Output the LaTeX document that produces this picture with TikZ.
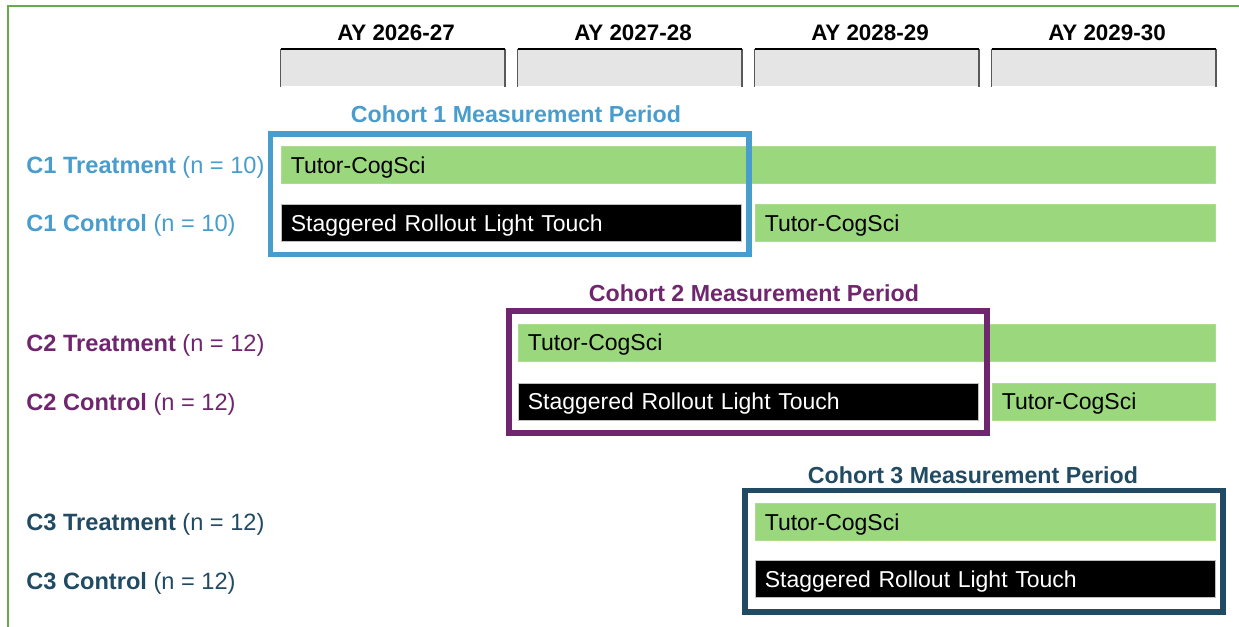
\documentclass[tikz,border=0pt]{standalone}
\usepackage{fontspec}
\setmainfont{Liberation Sans}
\definecolor{frameGreen}{RGB}{106,168,79}
\definecolor{barGreen}{RGB}{155,215,125}
\definecolor{cellGray}{RGB}{229,229,229}
\definecolor{cOneBlue}{RGB}{72,157,205}
\definecolor{cTwoPurple}{RGB}{112,38,110}
\definecolor{cThreeSlate}{RGB}{33,74,99}
\begin{document}
\begin{tikzpicture}[x=0.5pt, y=-0.5pt,
  frameline/.style={draw=frameGreen, line width=1.1pt},
  yearcell/.style={fill=cellGray, anchor=north west, minimum width=111.75pt, minimum height=18.35pt, inner sep=0pt},
  yearlabel/.style={font=\fontsize{11.2}{13}\selectfont\bfseries},
  celltop/.style={draw=black, line width=1.1pt},
  cellside/.style={draw=black!65, line width=0.7pt},
  barnode/.style={anchor=west, minimum height=18.5pt, inner xsep=5pt, inner ysep=0pt, text height=8.3pt, text depth=0pt, align=left, font=\fontsize{11.5}{13}\selectfont},
  tutorbar/.style={barnode, fill=barGreen, draw=barGreen!85!white, line width=0.3pt},
  rolloutbar/.style={barnode, fill=black, text=white, draw=black!25, line width=0.3pt},
  rowlabel/.style={anchor=west, inner sep=0pt, text height=8.3pt, text depth=0pt, font=\fontsize{11.8}{13}\selectfont},
  periodtitle/.style={font=\fontsize{11.6}{13}\selectfont\bfseries},
  periodframe/.style={line width=2.8pt}]
\useasboundingbox (0,0) rectangle (1239,627);
\draw[frameline] (8,627) -- (8,6) -- (1239,6);

% year header
\node[yearcell] (y1) at (280.5,49.3) {};
\node[yearcell] (y2) at (517.5,49.3) {};
\node[yearcell] (y3) at (754.5,49.3) {};
\node[yearcell] (y4) at (991.5,49.3) {};
\draw[cellside] (y1.south west) -- (y1.north west) (y1.north east) -- (y1.south east);
\draw[cellside] (y2.south west) -- (y2.north west) (y2.north east) -- (y2.south east);
\draw[cellside] (y3.south west) -- (y3.north west) (y3.north east) -- (y3.south east);
\draw[cellside] (y4.south west) -- (y4.north west) (y4.north east) -- (y4.south east);
\draw[celltop] (y1.north west) -- (y1.north east);
\draw[celltop] (y2.north west) -- (y2.north east);
\draw[celltop] (y3.north west) -- (y3.north east);
\draw[celltop] (y4.north west) -- (y4.north east);
\node[yearlabel] (ay1) at (396,33) {AY 2026-27};
\node[yearlabel] (ay2) at (633,33) {AY 2027-28};
\node[yearlabel] (ay3) at (870,33) {AY 2028-29};
\node[yearlabel] (ay4) at (1107,33) {AY 2029-30};

% cohort 1
\node[rowlabel, text=cOneBlue] (c1tl) at (26,165) {\bfseries C1 Treatment\mdseries{} (n = 10)};
\node[rowlabel, text=cOneBlue] (c1cl) at (26,223.5) {\bfseries C1 Control\mdseries{} (n = 10)};
\node[tutorbar, text width=457pt] (c1t) at (280.5,165) {Tutor-CogSci};
\node[rolloutbar, text width=220.25pt] (c1c) at (280.5,223) {Staggered Rollout Light Touch};
\node[tutorbar, text width=220pt] (c1cx) at (754.5,223) {Tutor-CogSci};
\draw[periodframe, cOneBlue] (270.3,133.7) rectangle (749,254.5);
\node[periodtitle, text=cOneBlue] (c1head) at (516,114) {Cohort 1 Measurement Period};

% cohort 2
\node[rowlabel, text=cTwoPurple] (c2tl) at (26,343.5) {\bfseries C2 Treatment\mdseries{} (n = 12)};
\node[rowlabel, text=cTwoPurple] (c2cl) at (26,402.5) {\bfseries C2 Control\mdseries{} (n = 12)};
\node[tutorbar, text width=338.5pt] (c2t) at (517.5,342.5) {Tutor-CogSci};
\node[rolloutbar, text width=220pt] (c2c) at (517.5,401.5) {Staggered Rollout Light Touch};
\node[tutorbar, text width=101.5pt] (c2cx) at (991.5,401.5) {Tutor-CogSci};
\draw[periodframe, cTwoPurple] (509,311) rectangle (987,432.7);
\node[periodtitle, text=cTwoPurple] (c2head) at (754,293) {Cohort 2 Measurement Period};

% cohort 3
\node[rowlabel, text=cThreeSlate] (c3tl) at (26,522.5) {\bfseries C3 Treatment\mdseries{} (n = 12)};
\node[rowlabel, text=cThreeSlate] (c3cl) at (26,581.5) {\bfseries C3 Control\mdseries{} (n = 12)};
\node[tutorbar, text width=220pt] (c3t) at (754.5,522) {Tutor-CogSci};
\node[rolloutbar, text width=220pt] (c3c) at (754.5,579) {Staggered Rollout Light Touch};
\draw[periodframe, cThreeSlate] (745,490.3) rectangle (1223,612);
\node[periodtitle, text=cThreeSlate] (c3head) at (973,475) {Cohort 3 Measurement Period};
\end{tikzpicture}
\end{document}
